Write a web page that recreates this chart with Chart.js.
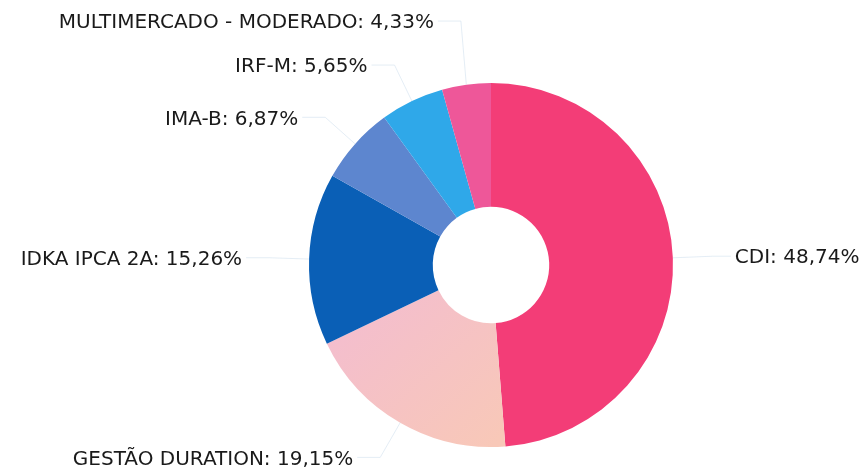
<!DOCTYPE html>
<html>
<head>
<meta charset="utf-8">
<script src="https://cdn.jsdelivr.net/npm/chart.js@4"></script>
<style>
  html, body { margin: 0; padding: 0; background: #ffffff; }
  #wrap { width: 862px; height: 474px; }
</style>
</head>
<body>
<div id="wrap"><canvas id="c" width="862" height="474"></canvas></div>
<script>
const categories = ["CDI", "GESTÃO DURATION", "IDKA IPCA 2A", "IMA-B", "IRF-M", "MULTIMERCADO - MODERADO"];
const shares = [48.74, 19.15, 15.26, 6.87, 5.65, 4.33];
const sliceColors = ["#F33D77", "#F5BECC", "#0A5FB6", "#5D86CF", "#2FA8E9", "#EE5799"];

function fmt(v) { return v.toFixed(2).replace('.', ',') + '%'; }

function sliceFill(context) {
  const i = context.dataIndex;
  const chart = context.chart;
  if (i === 1 && chart.chartArea) {
    const a = chart.chartArea;
    const g = chart.ctx.createLinearGradient(a.left + a.width / 2 - 150, a.top + a.height * 0.55, a.left + a.width / 2, a.bottom);
    g.addColorStop(0, '#F3BCD1');
    g.addColorStop(1, '#F8C8B8');
    return g;
  }
  return sliceColors[i];
}

const labelPlugin = {
  id: 'outLabels',
  afterDatasetsDraw(chart) {
    const ctx = chart.ctx;
    const meta = chart.getDatasetMeta(0);
    const items = [];
    meta.data.forEach((arc, i) => {
      const p = arc.getProps(['x', 'y', 'startAngle', 'endAngle', 'outerRadius'], true);
      const mid = (p.startAngle + p.endAngle) / 2;
      const r = p.outerRadius + 40;
      const ex = p.x + p.outerRadius * Math.cos(mid);
      const ey = p.y + p.outerRadius * Math.sin(mid);
      const px = p.x + r * Math.cos(mid);
      const py = p.y + r * Math.sin(mid);
      items.push({ i, ex, ey, px, py, right: Math.cos(mid) >= 0 });
    });
    [true, false].forEach(side => {
      const s = items.filter(it => it.right === side).sort((a, b) => b.py - a.py);
      for (let k = 1; k < s.length; k++) {
        if (s[k - 1].py - s[k].py < 44) s[k].py = s[k - 1].py - 44;
      }
    });
    ctx.save();
    ctx.font = '20px "DejaVu Sans", Verdana, sans-serif';
    ctx.textBaseline = 'middle';
    items.forEach(it => {
      const tx = it.right ? it.px + 22 : it.px - 27;
      ctx.strokeStyle = 'rgba(205,222,236,0.55)';
      ctx.lineWidth = 1;
      ctx.beginPath();
      ctx.moveTo(it.ex, it.ey);
      ctx.lineTo(it.px, it.py);
      ctx.lineTo(it.right ? tx - 4 : tx + 4, it.py);
      ctx.stroke();
      ctx.fillStyle = '#1a1a1a';
      ctx.textAlign = it.right ? 'left' : 'right';
      ctx.fillText(categories[it.i] + ': ' + fmt(shares[it.i]), tx, it.py + 2);
    });
    ctx.restore();
  }
};

new Chart(document.getElementById('c'), {
  type: 'doughnut',
  data: {
    labels: categories,
    datasets: [{
      data: shares,
      backgroundColor: sliceFill,
      borderWidth: 0
    }]
  },
  options: {
    responsive: false,
    animation: false,
    cutout: '32%',
    layout: { padding: { top: 83, bottom: 27, left: 200, right: 80 } },
    plugins: {
      legend: { display: false },
      tooltip: { enabled: false }
    }
  },
  plugins: [labelPlugin]
});
</script>
</body>
</html>
